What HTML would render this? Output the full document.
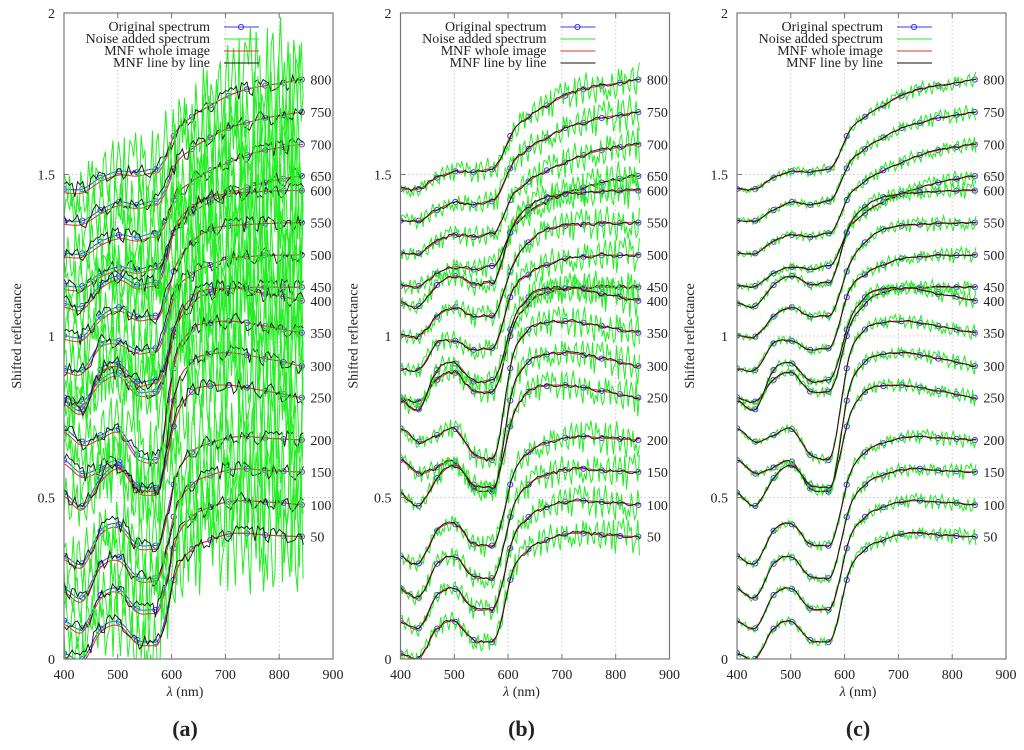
<!DOCTYPE html>
<html><head><meta charset="utf-8"><style>
body{margin:0;background:#fff}
svg{display:block}
text{font-family:"Liberation Serif",serif;fill:#222}
</style></head><body>
<svg id="fig" width="1024" height="750" viewBox="0 0 1024 750" xmlns="http://www.w3.org/2000/svg"></svg>
<script>
// ---- data ----
const wavelengths = [400,434,468,502,536,570,604,638,672,706,740,774,808,842];
const curveLabels = ["800","750","700","650","600","550","500","450","400","350","300","250","200","150","100","50"];
const s800 = [1.455,1.455,1.49,1.51,1.507,1.516,1.619,1.679,1.714,1.744,1.764,1.775,1.784,1.794];
const s750 = [1.357,1.357,1.39,1.415,1.406,1.417,1.519,1.579,1.615,1.644,1.66,1.675,1.684,1.693];
const s700 = [1.256,1.256,1.292,1.313,1.306,1.318,1.421,1.478,1.513,1.537,1.56,1.575,1.585,1.593];
const s650 = [1.155,1.155,1.194,1.214,1.206,1.217,1.32,1.38,1.415,1.44,1.46,1.475,1.487,1.495];
const s600 = [1.101,1.093,1.158,1.186,1.158,1.165,1.32,1.40,1.43,1.44,1.445,1.448,1.45,1.45];
const s550 = [1.001,0.998,1.06,1.089,1.06,1.063,1.2,1.29,1.33,1.341,1.345,1.348,1.35,1.351];
const s500 = [0.900,0.895,0.977,0.985,0.957,0.962,1.12,1.19,1.22,1.24,1.245,1.25,1.25,1.251];
const s450 = [0.81,0.797,0.864,0.886,0.828,0.828,1.0,1.10,1.135,1.147,1.15,1.151,1.151,1.151];
const s400 = [0.80,0.773,0.895,0.915,0.859,0.864,1.02,1.12,1.145,1.147,1.145,1.13,1.122,1.109];
const s350 = [0.714,0.673,0.693,0.712,0.632,0.616,0.90,1.02,1.041,1.046,1.041,1.031,1.02,1.01];
const s300 = [0.616,0.574,0.593,0.611,0.528,0.518,0.80,0.92,0.943,0.948,0.941,0.93,0.92,0.907];
const s250 = [0.515,0.474,0.56,0.60,0.54,0.53,0.72,0.827,0.845,0.848,0.84,0.83,0.82,0.809];
const s200 = [0.319,0.296,0.397,0.417,0.355,0.351,0.54,0.64,0.668,0.685,0.689,0.684,0.681,0.678];
const s150 = [0.219,0.19,0.295,0.315,0.255,0.25,0.44,0.54,0.568,0.585,0.589,0.584,0.581,0.579];
const s100 = [0.119,0.095,0.198,0.217,0.156,0.152,0.343,0.44,0.47,0.487,0.49,0.486,0.483,0.477];
const s50  = [0.018,0.0,0.094,0.115,0.059,0.052,0.245,0.34,0.368,0.387,0.389,0.384,0.381,0.379];
const spectra = [s800,s750,s700,s650,s600,s550,s500,s450,s400,s350,s300,s250,s200,s150,s100,s50];
const noisePattern = [0.6,-0.8,0.3,0.9,-0.4,-1.0,0.5,0.1,-0.6,0.8,-0.2,0.7,-0.9,0.4,-0.3,1.0,-0.7,0.2,0.6,-0.5,
 -0.1,0.9,-0.8,0.3,-0.6,0.5,0.8,-0.9,0.1,-0.4,0.7,-0.2,-0.7,0.9,0.4,-1.0,0.2,0.6,-0.3,0.8,
 -0.6,-0.1,0.5,-0.9,0.7,0.3,-0.5,1.0,-0.8,0.1,0.4,-0.7,0.9,-0.2,-0.6,0.6,0.2,-0.4,0.8,-1.0,0.3];
const xTicks = [400,500,600,700,800,900];
const yTicks = [0,0.5,1,1.5,2];
const yTickLabels = ["0","0.5","1","1.5","2"];
const legendLabels = ["Original spectrum","Noise added spectrum","MNF whole image","MNF line by line"];
const panelTags = ["(a)","(b)","(c)"];
const noiseAmps = [0.15,0.04,0.018];
const blackAmps = [0.025,0.006,0.003];

// ---- drawing ----
const NS="http://www.w3.org/2000/svg";
const svg=document.getElementById('fig');
function mk(tag,attrs,parent){const e=document.createElementNS(NS,tag);for(const k in attrs)e.setAttribute(k,attrs[k]);(parent||svg).appendChild(e);return e;}
function tangent(arr,i){
  if(i===5) return -0.01;                      // flat just before red edge
  if(i===6) return (arr[7]-arr[5])*0.75;       // steep red edge
  return (arr[Math.min(i+1,arr.length-1)]-arr[Math.max(i-1,0)])/2;
}
function valAt(arr,l){
  let f=(l-400)/34; let i=Math.floor(f); if(i<0)i=0; if(i>arr.length-2)i=arr.length-2; const t=f-i;
  const p1=arr[i],p2=arr[i+1];
  const m1=tangent(arr,i),m2=tangent(arr,i+1),t2=t*t,t3=t2*t;
  return (2*t3-3*t2+1)*p1+(t3-2*t2+t)*m1+(-2*t3+3*t2)*p2+(t3-t2)*m2;
}
const panelLefts=[64,400.5,737];
const PW=269, Y0=659, YS=323;
panelLefts.forEach((L,pi)=>{
  const X=l=>L+(l-400)*PW/500, Y=v=>Y0-v*YS;
  const g=mk('g',{});
  
  
  const cid='clip'+pi;
  const cp=mk('clipPath',{id:cid},g); mk('rect',{x:L,y:Y(2),width:PW,height:Y(0)-Y(2)},cp);
  xTicks.slice(1,-1).forEach(t=>{const ln=mk('line',{x1:X(t),x2:X(t),y1:Y(0),y2:Y(2),stroke:'#c8c8c8','stroke-dasharray':'1.5,2.5','stroke-width':1},g);
    });
  yTicks.slice(1,-1).forEach(t=>{const ln=mk('line',{x1:L,x2:L+PW,y1:Y(t),y2:Y(t),stroke:'#c8c8c8','stroke-dasharray':'1.5,2.5','stroke-width':1},g);
    });
  const series=mk('g',{'clip-path':'url(#'+cid+')'},g);
  
  const A=noiseAmps[pi], B=blackAmps[pi];
  const step = pi==0?3.5:3;
  spectra.forEach((s,ci)=>{
    let d='';for(let l=400;l<=845;l+=2)d+=(l==400?'M':'L')+X(l).toFixed(1)+','+Y(valAt(s,l)).toFixed(1);
    const bl=mk('path',{d:d,fill:'none',stroke:'#3a3aff','stroke-width':1},series);
    
    s.forEach((v,k)=>{const c=mk('circle',{cx:X(wavelengths[k]),cy:Y(v),r:2.6,fill:'none',stroke:'#3a3aff','stroke-width':1},series);
      });
    d='';let k=0;
    for(let l=400;l<=845;l+=step,k++){const amp=A*(0.55+0.9*(l-400)/445);const n=noisePattern[(k*2+ci*7)%noisePattern.length];
      d+=(k==0?'M':'L')+X(l).toFixed(1)+','+Y(valAt(s,l)+amp*n).toFixed(1);}
    const gr=mk('path',{d:d,fill:'none',stroke:'#22ee22','stroke-width':1},series);
    
    d='';for(let l=400;l<=845;l+=2){const off=(pi==0&&l<600)?-0.012:0;d+=(l==400?'M':'L')+X(l).toFixed(1)+','+Y(valAt(s,l)+off).toFixed(1);}
    const rd=mk('path',{d:d,fill:'none',stroke:'#e03030','stroke-width':1},series);
    
    d='';k=0;for(let l=400;l<=845;l+=5,k++){const n=noisePattern[(k*3+ci*11)%noisePattern.length];
      d+=(l==400?'M':'L')+X(l).toFixed(1)+','+Y(valAt(s,l)+B*n).toFixed(1);}
    const bk=mk('path',{d:d,fill:'none',stroke:'#111','stroke-width':0.9},series);
    
    const t=mk('text',{x:X(845)+7,y:Y(s[s.length-1])+5,'font-size':14},g);t.textContent=curveLabels[ci];
    
  });
  const fr=mk('rect',{x:L,y:Y(2),width:PW,height:Y(0)-Y(2),fill:'none',stroke:'#777','stroke-width':1.2},g);
  
  xTicks.forEach(t=>{mk('line',{x1:X(t),x2:X(t),y1:Y(0),y2:Y(0)-5,stroke:'#777'},g);mk('line',{x1:X(t),x2:X(t),y1:Y(2),y2:Y(2)+5,stroke:'#777'},g);
    const tx=mk('text',{x:X(t),y:Y(0)+20,'font-size':14,'text-anchor':'middle'},g);tx.textContent=t;
    });
  yTicks.forEach((t,i)=>{mk('line',{x1:L,x2:L+5,y1:Y(t),y2:Y(t),stroke:'#777'},g);
    const tx=mk('text',{x:L-9,y:Y(t)+5,'font-size':14,'text-anchor':'end'},g);tx.textContent=yTickLabels[i];
    });
  const xl=mk('text',{x:L+PW*0.45,y:696,'font-size':14,'text-anchor':'middle'},g);xl.innerHTML='<tspan font-style="italic">λ</tspan> (nm)';
  
  const yl=mk('text',{x:0,y:0,'font-size':14,'text-anchor':'middle',transform:'translate('+(L-43)+',336) rotate(-90)'},g);yl.textContent='Shifted reflectance';
  
  const pt=mk('text',{x:L+PW*0.45,y:736,'font-size':22,'font-weight':'bold','text-anchor':'middle'},g);pt.textContent=panelTags[pi];
  
  const cols=['#3a3aff','#22ee22','#e03030','#111'];
  legendLabels.forEach((lab,i)=>{const y=27+i*12;
    const tx=mk('text',{x:L+146,y:y+4,'font-size':14,'text-anchor':'end'},g);tx.textContent=lab;
    
    const ln=mk('line',{x1:L+160,x2:L+195,y1:y,y2:y,stroke:cols[i],'stroke-width':1},g);
    
    if(i==0){const c=mk('circle',{cx:L+177,cy:y,r:2.6,fill:'none',stroke:cols[0]},g);
      }
  });
});
</script>
</body></html>
